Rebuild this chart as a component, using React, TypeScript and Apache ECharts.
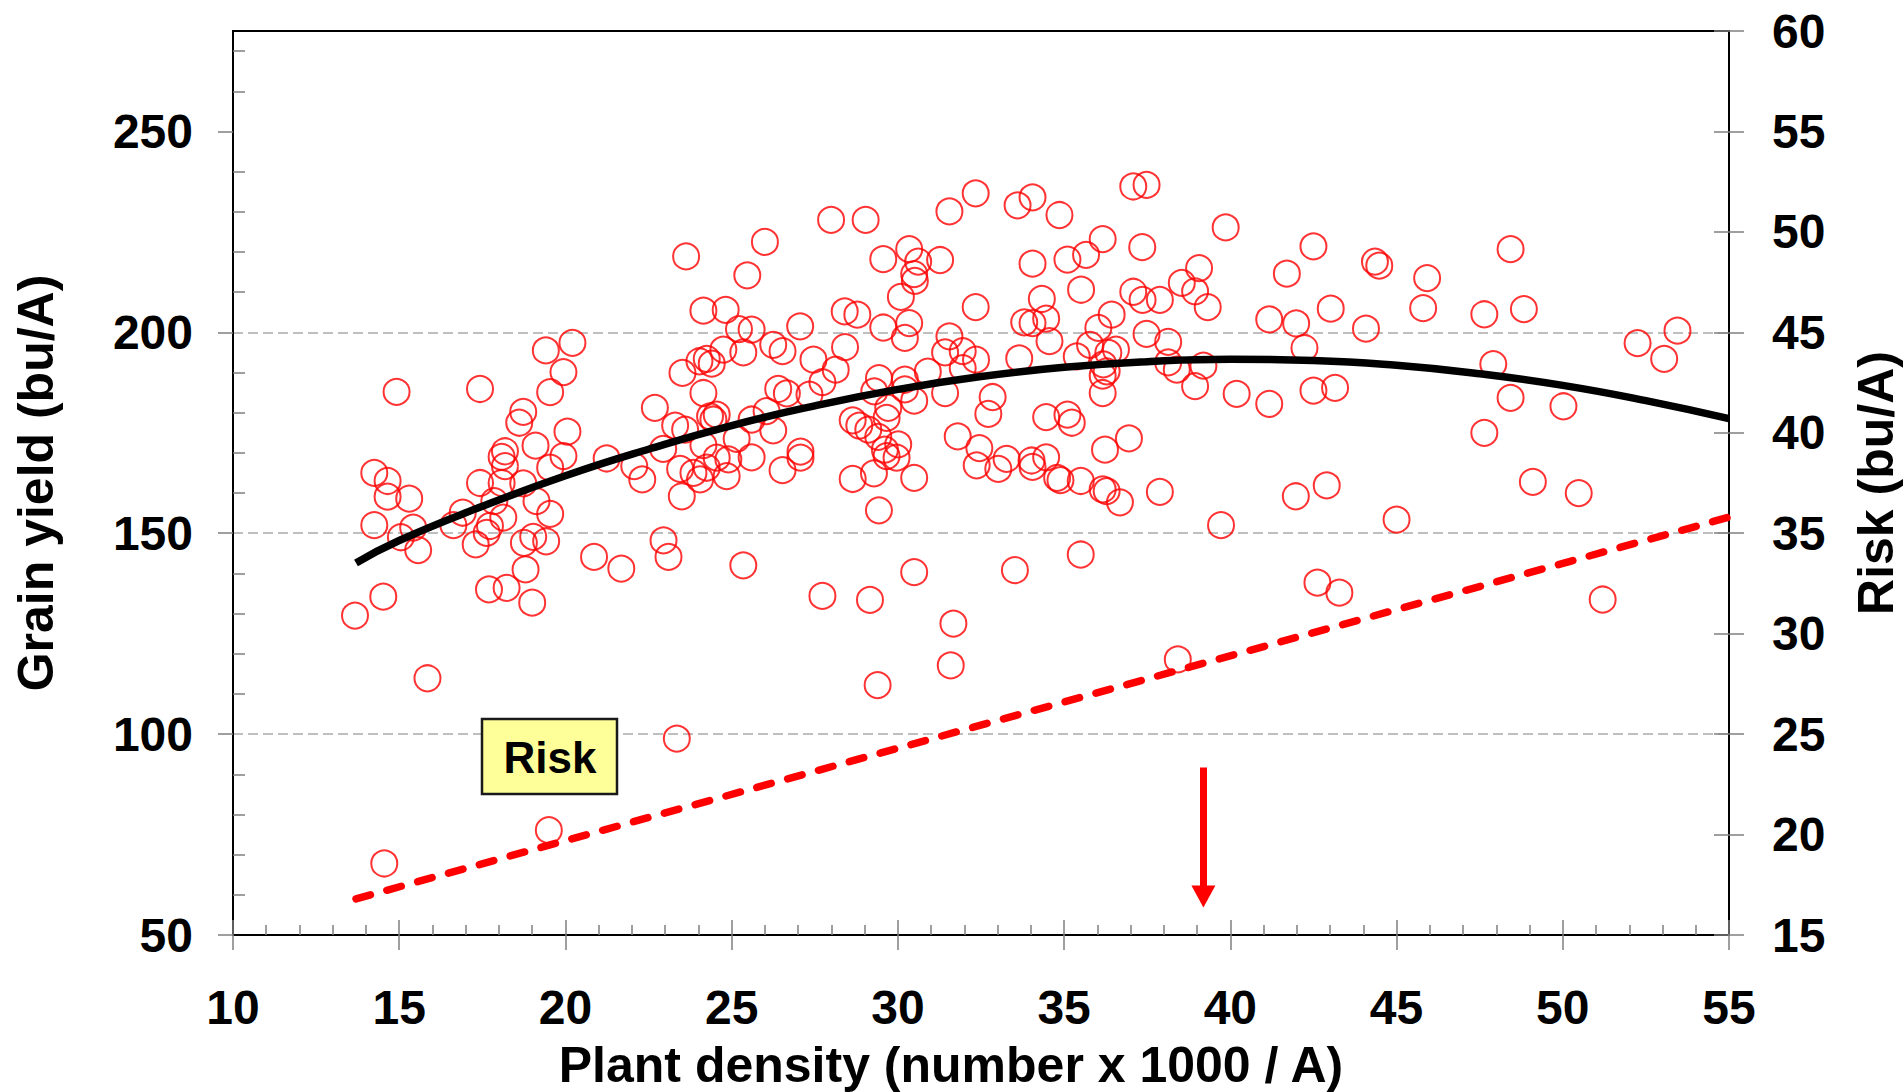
import React, { useEffect, useRef } from "react";
import * as echarts from "echarts";

const FONT = '"Liberation Sans", Arial, Helvetica, sans-serif';

// Observed plots: [plant density (x1000/A), grain yield (bu/A)]
const observed: [number, number][] = [
  [13.67, 129.5], [14.25, 165.0], [14.65, 163.0], [14.65, 159.1], [15.3, 158.6], [14.25, 152.0], [15.42, 151.4],
  [15.05, 149.0], [15.57, 145.8], [14.52, 134.2], [15.85, 113.9], [14.55, 67.8], [14.92, 185.2],
  [16.63, 152.0], [16.91, 155.1], [17.3, 147.2], [17.43, 185.9], [17.43, 162.5], [17.73, 151.8], [17.63, 150.1],
  [17.86, 158.0], [17.7, 136.0], [18.08, 169.0], [18.18, 170.4], [18.18, 166.7], [18.08, 162.5], [18.13, 153.9],
  [18.23, 136.4], [18.61, 177.5], [18.73, 180.2], [18.73, 162.4], [18.75, 147.6], [18.8, 141.0], [19.03, 149.1],
  [19.0, 132.7], [19.1, 171.8], [19.13, 158.0], [19.42, 148.0], [19.41, 195.5], [19.54, 185.1], [19.54, 166.3],
  [19.54, 154.8], [19.94, 190.1], [19.94, 169.2], [20.06, 175.3], [20.21, 197.4], [19.5, 76.1],
  [20.86, 144.1], [21.24, 168.6], [21.68, 141.2], [22.07, 166.7], [22.31, 163.4], [22.69, 181.2], [22.94, 171.0],
  [22.95, 148.2], [23.1, 144.1], [23.35, 98.9], [23.63, 218.9], [23.52, 189.9], [23.3, 176.8], [23.6, 175.8],
  [23.45, 166.0], [23.85, 165.0], [24.05, 163.4], [23.5, 159.2], [24.03, 192.8], [24.25, 193.4], [24.4, 192.2],
  [24.75, 195.7], [24.15, 205.4], [24.82, 205.6], [24.15, 184.9], [24.35, 179.1], [24.55, 179.5], [24.45, 178.3],
  [24.15, 171.9], [24.55, 168.8], [24.25, 166.3], [24.85, 164.2], [24.9, 168.4], [25.15, 173.5], [25.6, 168.9],
  [25.6, 178.3], [25.22, 200.8], [25.6, 200.7], [25.35, 195.0], [25.47, 214.2], [25.35, 142.0],
  [26.0, 222.5], [26.05, 180.4], [26.25, 175.6], [26.25, 196.9], [26.53, 195.3], [26.4, 185.9], [26.66, 184.8],
  [26.53, 165.7], [27.06, 201.5], [27.07, 170.3], [27.07, 168.8], [27.34, 184.5], [27.46, 193.2], [27.73, 187.6],
  [27.73, 134.4], [27.99, 228.0], [28.13, 190.7], [28.41, 196.3], [28.4, 205.2], [28.78, 204.4], [28.64, 178.1],
  [28.84, 176.8], [29.11, 175.8], [28.64, 163.5], [29.03, 228.0], [29.16, 133.4], [29.28, 164.9], [29.29, 185.3],
  [29.43, 188.6], [29.41, 174.0], [29.66, 178.7], [29.71, 181.2], [29.61, 170.8], [29.66, 169.2], [29.96, 168.8],
  [30.01, 172.1], [29.43, 155.7], [29.39, 112.2], [29.56, 218.2], [29.56, 201.2],
  [30.09, 208.8], [30.21, 198.6], [30.34, 202.3], [30.34, 220.7], [30.61, 217.6], [30.49, 214.5], [30.51, 212.8],
  [30.21, 188.2], [30.21, 185.8], [30.49, 183.0], [30.9, 190.2], [30.49, 163.8], [30.49, 140.3], [31.27, 218.0],
  [31.55, 199.0], [31.42, 195.0], [31.42, 184.9], [31.55, 230.1], [31.95, 195.3], [31.95, 191.1], [32.35, 193.2],
  [31.8, 174.1], [31.67, 127.5], [31.59, 117.1], [32.34, 234.6], [32.34, 206.3], [32.85, 183.9], [32.72, 179.7],
  [32.45, 171.2], [32.37, 166.9], [33.02, 166.0], [33.27, 168.5], [33.6, 231.6], [33.52, 140.8], [33.65, 193.5],
  [33.8, 202.5], [34.05, 202.3], [34.46, 203.4], [34.05, 233.6], [34.05, 217.1], [34.33, 208.3], [34.56, 197.8],
  [34.46, 178.9], [34.02, 168.1], [34.46, 168.9], [34.05, 166.5], [34.79, 163.8], [34.89, 163.2], [34.86, 229.2],
  [35.1, 218.1], [35.1, 179.5], [35.23, 177.5], [35.38, 194.0], [35.5, 163.0], [35.5, 144.7], [35.51, 210.6],
  [35.66, 219.3], [35.78, 196.9], [36.03, 201.1], [36.16, 223.2], [36.43, 204.4], [36.33, 194.9], [36.56, 195.7],
  [36.18, 192.0], [36.28, 190.3], [36.16, 189.2], [36.16, 184.9], [36.23, 170.8], [36.16, 160.9], [36.28, 160.5],
  [36.68, 157.7], [36.95, 173.6], [37.08, 236.3], [37.48, 236.7], [37.35, 221.2], [37.08, 210.1], [37.36, 208.1],
  [37.48, 199.6], [37.88, 208.1], [37.88, 160.3], [38.13, 197.6], [38.13, 192.5], [38.39, 190.7], [38.54, 212.3],
  [38.42, 118.6], [38.94, 210.2], [39.06, 216.0], [38.94, 186.6], [39.19, 191.7], [39.32, 206.3], [39.72, 152.0],
  [39.86, 226.1],
  [40.19, 184.7], [41.17, 203.2], [41.17, 182.2], [41.7, 214.6], [41.98, 202.2], [41.97, 159.2], [42.23, 196.1],
  [42.5, 221.4], [42.5, 185.5], [42.62, 137.7], [42.9, 161.9], [43.02, 205.9], [43.15, 186.2], [43.28, 135.2],
  [44.08, 200.9], [44.35, 217.6], [44.48, 216.6], [45.0, 153.4], [45.8, 206.0], [45.92, 213.5], [47.64, 204.5],
  [47.64, 175.0], [47.91, 192.1], [48.43, 220.7], [48.43, 183.7], [48.83, 205.8], [49.1, 162.8], [50.02, 181.6],
  [50.48, 160.0], [51.2, 133.5], [52.25, 197.3], [53.05, 193.4], [53.45, 200.4],
];

// Fitted yield response curve
const curveDensity = [13.7, 15, 17.5, 20, 22.5, 25, 27.5, 30, 32.5, 35, 37.5, 40, 42.5, 45, 47.5, 50, 52.5, 55];
const curveYield = [142.6, 148.2, 156.7, 164.3, 170.9, 176.8, 181.7, 185.8, 189.0, 191.3, 192.7, 193.3, 193.0, 191.8, 189.7, 186.8, 183.0, 178.5];

// Risk line (right axis)
const riskDensity = [13.7, 55];
const riskLevel = [16.8, 35.8];

// Optimum density arrow (in yield units)
const optimumDensity = 39.19;
const arrowYield = [91.7, 59.6];

// Axis ticks
const yieldTicks = [50, 100, 150, 200, 250];
const yieldMinorTicks = [60, 70, 80, 90, 110, 120, 130, 140, 160, 170, 180, 190, 210, 220, 230, 240, 260, 270];

export default function App() {
  const ref = useRef<HTMLDivElement>(null);

  useEffect(() => {
    document.body.style.margin = "0";
    const chart = echarts.init(ref.current!, null, { renderer: "svg" });
    const tickLine = { color: "#7f7f7f", width: 1.5 };
    const labelStyle = { fontSize: 48, fontWeight: "bold" as const, color: "#000", fontFamily: FONT };
    const nameStyle = { fontSize: 50, fontWeight: "bold" as const, color: "#000", fontFamily: FONT };

    const option: any = {
      animation: false,
      backgroundColor: "#fff",
      grid: {
        left: 233, right: 175, top: 31, bottom: 157,
        containLabel: false, outerBoundsMode: "none",
        show: true, borderColor: "#000", borderWidth: 2, backgroundColor: "transparent",
      },
      xAxis: [
        {
          type: "value", position: "bottom", min: 10, max: 55, interval: 5,
          axisLine: { show: true, onZero: false, lineStyle: { color: "#000", width: 2 } },
          axisTick: { show: true, inside: false, length: 15, lineStyle: tickLine },
          minorTick: { show: false },
          axisLabel: { ...labelStyle, margin: 48 },
          splitLine: { show: false },
          name: "Plant density (number x 1000 / A)",
          nameLocation: "middle", nameGap: 105,
          nameTextStyle: { ...nameStyle, padding: [0, 60, 0, 0] },
        },
        {
          type: "value", position: "bottom", min: 10, max: 55, interval: 5,
          axisLine: { show: false, onZero: false },
          axisTick: { show: true, inside: true, length: 15, lineStyle: tickLine },
          minorTick: { show: true, splitNumber: 5, length: 10, lineStyle: tickLine },
          axisLabel: { show: false },
          splitLine: { show: false },
        },
      ],
      yAxis: [
        {
          type: "value", position: "left", min: 50, max: 275, interval: 50,
          axisLine: { show: true, onZero: false, lineStyle: { color: "#000", width: 2 } },
          axisTick: { show: true, inside: false, length: 15, lineStyle: tickLine, customValues: yieldTicks },
          axisLabel: { ...labelStyle, margin: 40, customValues: yieldTicks },
          splitLine: {
            show: true, showMinLine: false, showMaxLine: false,
            lineStyle: { color: "#BFBFBF", width: 2, type: [10, 5] },
          },
          name: "Grain yield (bu/A)", nameLocation: "middle", nameGap: 172, nameRotate: 90,
          nameTextStyle: nameStyle,
        },
        {
          type: "value", position: "left", min: 50, max: 275,
          axisLine: { show: false, onZero: false },
          axisTick: { show: true, inside: true, length: 12, lineStyle: tickLine, customValues: yieldMinorTicks },
          axisLabel: { show: false },
          splitLine: { show: false },
        },
        {
          type: "value", position: "right", min: 15, max: 60, interval: 5,
          axisLine: { show: true, onZero: false, lineStyle: { color: "#000", width: 2 } },
          axisTick: { show: true, inside: false, length: 15, lineStyle: tickLine },
          axisLabel: { ...labelStyle, margin: 43 },
          splitLine: { show: false },
          name: "Risk (bu/A)", nameLocation: "middle", nameGap: 122, nameRotate: 90,
          nameTextStyle: nameStyle,
        },
        {
          type: "value", position: "right", min: 15, max: 60, interval: 5,
          axisLine: { show: false, onZero: false },
          axisTick: { show: true, inside: true, length: 15, lineStyle: tickLine },
          axisLabel: { show: false },
          splitLine: { show: false },
        },
      ],
      series: [
        {
          type: "scatter", xAxisIndex: 0, yAxisIndex: 0, data: observed,
          symbol: "circle", symbolSize: 26, silent: true, z: 2,
          itemStyle: { color: "rgba(0,0,0,0)", borderColor: "#FF0000", borderWidth: 2 },
          markLine: {
            silent: true, symbol: ["none", "triangle"], symbolSize: [24, 22],
            lineStyle: { color: "#FF0000", width: 7, type: "solid" },
            label: { show: false },
            data: [[
              { coord: [optimumDensity, arrowYield[0]] },
              { coord: [optimumDensity, arrowYield[1]] },
            ]],
          },
        },
        {
          type: "line", xAxisIndex: 0, yAxisIndex: 0, smooth: true, symbol: "none", silent: true, z: 3,
          data: curveDensity.map((d, i) => [d, curveYield[i]]),
          lineStyle: { color: "#000", width: 7.5 },
        },
        {
          type: "line", xAxisIndex: 0, yAxisIndex: 2, symbol: "none", silent: true, z: 3,
          data: riskDensity.map((d, i) => [d, riskLevel[i]]),
          lineStyle: { color: "#FF0000", width: 7.5, type: [15, 17], cap: "round" },
        },
      ],
      graphic: [
        {
          type: "rect", z: 10,
          shape: { x: 482, y: 719, width: 135, height: 75 },
          style: { fill: "#FFFF99", stroke: "#1a1a1a", lineWidth: 2.5 },
        },
        {
          type: "text", z: 11, x: 550, y: 757,
          style: {
            text: "Risk", fontSize: 44, fontWeight: "bold", fontFamily: FONT, fill: "#000",
            align: "center", verticalAlign: "middle",
          },
        },
      ],
    };
    chart.setOption(option);
    return () => chart.dispose();
  }, []);

  return (
    <div
      ref={ref}
      style={{ position: "fixed", left: 0, top: 0, width: 1904, height: 1092 }}
    />
  );
}
